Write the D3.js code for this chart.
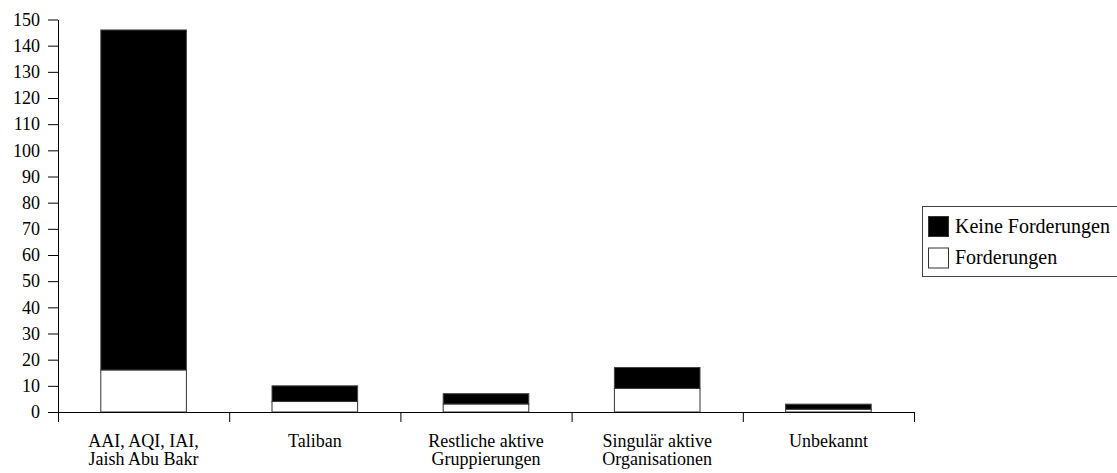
<!DOCTYPE html>
<html>
<head>
<meta charset="utf-8">
<script src="https://cdn.jsdelivr.net/npm/d3@7"></script>
<style>
  html, body { margin: 0; padding: 0; background: #fff; }
  svg { display: block; }
</style>
</head>
<body>
<svg id="chart" width="1117" height="473"></svg>
<script>
const categories = [
  ["AAI, AQI, IAI,", "Jaish Abu Bakr"],
  ["Taliban"],
  ["Restliche aktive", "Gruppierungen"],
  ["Singulär aktive", "Organisationen"],
  ["Unbekannt"]
];
const forderungen = [16, 4, 3, 9, 1];
const keineForderungen = [130, 6, 4, 8, 2];
const seriesNames = ["Keine Forderungen", "Forderungen"];
const yTicks = [0, 10, 20, 30, 40, 50, 60, 70, 80, 90, 100, 110, 120, 130, 140, 150];

(function () {
const FONT = "Liberation Serif";
const svg = d3.select("#chart");
const mLeft = 58, mRight = 914, mTop = 19.5, mBottom = 412;

const keys = categories.map(c => c.join(" "));
const x = d3.scaleBand().domain(keys).range([mLeft, mRight]).paddingInner(0.5).paddingOuter(0.25);
const y = d3.scaleLinear().domain([0, 150]).range([mBottom, mTop]);
const xIdx = d3.scaleLinear().domain([0, categories.length]).range([mLeft, mRight]);

// y axis
const yAxis = svg.append("g").attr("transform", `translate(${mLeft},0)`)
  .call(d3.axisLeft(y).tickValues(yTicks).tickSize(10).tickPadding(8).tickSizeOuter(0));
yAxis.attr("font-family", FONT).attr("font-size", 18);
yAxis.select(".domain").attr("stroke", "#000").attr("stroke-width", 1);
yAxis.selectAll(".tick line").attr("stroke", "#000");
yAxis.selectAll("text").attr("fill", "#000").attr("font-family", FONT).attr("font-size", 18);

// bars
const data = keys.map((k, i) => ({ k, f: forderungen[i], kf: keineForderungen[i] }));
const g = svg.append("g");
g.selectAll("rect.kf").data(data).enter().append("rect")
  .attr("x", d => x(d.k)).attr("width", x.bandwidth())
  .attr("y", d => y(d.f + d.kf)).attr("height", d => y(d.f) - y(d.f + d.kf))
  .attr("fill", "#000").attr("stroke", "#444").attr("stroke-width", 1);
g.selectAll("rect.f").data(data).enter().append("rect")
  .attr("x", d => x(d.k)).attr("width", x.bandwidth())
  .attr("y", d => y(d.f)).attr("height", d => y(0) - y(d.f))
  .attr("fill", "#fff").attr("stroke", "#333").attr("stroke-width", 1);

// x axis
const xAxis = svg.append("g").attr("transform", `translate(0,${mBottom})`)
  .call(d3.axisBottom(xIdx).tickValues(d3.range(categories.length + 1)).tickSize(10).tickSizeOuter(0).tickFormat(""));
xAxis.select(".domain").attr("stroke", "#000");
xAxis.selectAll(".tick line").attr("stroke", "#000");

// category labels
const lab = svg.append("g");
data.forEach((d, i) => {
  const cx = x(d.k) + x.bandwidth() / 2;
  const t = lab.append("text").attr("text-anchor", "middle").attr("x", cx).attr("y", 447)
    .attr("font-family", FONT).attr("font-size", 18).attr("fill", "#000");
  categories[i].forEach((line, j) => {
    t.append("tspan").attr("x", cx).attr("y", 447 + j * 18).text(line);
  });
});

// legend
const leg = svg.append("g");
leg.append("rect").attr("x", 922.5).attr("y", 206.5).attr("width", 210).attr("height", 70)
  .attr("fill", "#fff").attr("stroke", "#444");
const fills = ["#000", "#fff"];
seriesNames.forEach((n, i) => {
  leg.append("rect").attr("x", 928.5).attr("y", 216.5 + i * 31.5).attr("width", 20).attr("height", 20)
    .attr("fill", fills[i]).attr("stroke", "#333");
  leg.append("text").attr("x", 955).attr("y", 233 + i * 30.5)
    .attr("font-family", FONT).attr("font-size", 20).attr("fill", "#000").text(n);
});
})();
</script>
</body>
</html>
